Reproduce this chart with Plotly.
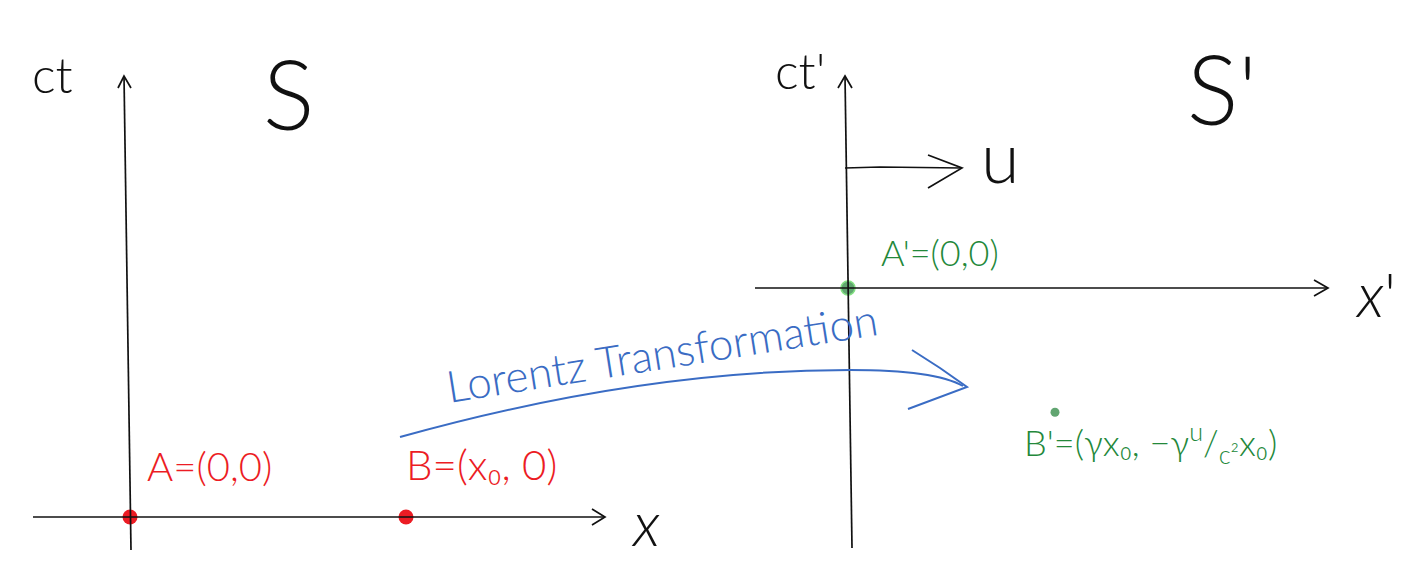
import plotly.graph_objects as go

W, H = 1406, 583
OFF = 8  # the page draws the figure 8px in from the top-left corner

# events in frame S (lengths in units of x0)
s_labels = ["A=(0,0)", "B=(x₀, 0)"]
s_x = [0.0, 1.0]
s_ct = [0.0, 0.0]

# the same events in frame S' (x0 = 1, gamma = 1.25, u/c = 0.6)
sp_labels = ["A'=(0,0)", "B'=(γx₀, −γ<sup>u</sup>/<sub>c²</sub>x₀)"]
sp_x = [0.0, 1.25]
sp_ct = [0.0, -0.75]

RED = "#ec1c24"
GREEN = "#23883a"
BLUE = "#3a6cc4"
INK = "#111111"
FONT = "Lato"

# where each frame's origin sits on screen and how many pixels one unit spans
S_ORIGIN, S_SCALE = (130, 517), 276.0
SP_ORIGIN, SP_SCALE = (848, 288), 165.6


def pp(x, y):
    # screen pixel -> paper fraction
    return (x - OFF) / W, 1 - (y - OFF) / H


def axis_range(origin, scale):
    ox, oy = origin[0] - OFF, origin[1] - OFF
    return [-ox / scale, (W - ox) / scale], [-(H - oy) / scale, oy / scale]


def to_frame(origin, scale, x, y):
    return (x - origin[0]) / scale, (origin[1] - y) / scale


def path(points):
    parts = []
    for i, (x, y) in enumerate(points):
        fx, fy = pp(x, y)
        parts.append(("M" if i == 0 else "L") + f"{fx:.5f},{fy:.5f}")
    return " ".join(parts)


fig = go.Figure()

fig.add_trace(go.Scatter(
    x=s_x, y=s_ct, mode="markers", xaxis="x", yaxis="y",
    marker=dict(size=15, color=RED, symbol="circle", line=dict(width=0)),
    hoverinfo="skip", showlegend=False,
))
fig.add_trace(go.Scatter(
    x=sp_x, y=sp_ct, mode="markers", xaxis="x2", yaxis="y2",
    marker=dict(size=[14, 9], color="#1e7f35",
                line=dict(color=["#4fd44f", "#1e7f35"], width=[1.5, 0])),
    hoverinfo="skip", showlegend=False,
))

shapes = []
line_k = dict(color=INK, width=1.7)


def frame_line(ref, origin, scale, p0, p1):
    x0, y0 = to_frame(origin, scale, *p0)
    x1, y1 = to_frame(origin, scale, *p1)
    shapes.append(dict(type="line", xref="x" + ref, yref="y" + ref,
                       x0=x0, y0=y0, x1=x1, y1=y1, line=line_k))


# axes of S and S'
frame_line("", S_ORIGIN, S_SCALE, (33, 517), (605, 517))
frame_line("", S_ORIGIN, S_SCALE, (131, 550), (124, 76))
frame_line("2", SP_ORIGIN, SP_SCALE, (755, 288), (1328, 288))
frame_line("2", SP_ORIGIN, SP_SCALE, (852, 548), (845, 76))

# arrow heads and velocity arrow
heads = [
    [(592, 509), (605, 517), (592, 525)],
    [(118, 88), (124, 76), (131, 88)],
    [(1314, 280), (1328, 288), (1314, 296)],
    [(838, 88), (845, 76), (852, 88)],
    [(928, 155), (962, 168), (928, 188)],
]
for h in heads:
    shapes.append(dict(type="path", xref="paper", yref="paper", path=path(h), line=line_k))
shapes.append(dict(type="path", xref="paper", yref="paper",
                   path=path([(845, 168), (880, 167), (962, 168)]), line=line_k))

# blue transformation arrow
a = pp(400, 437)
c1 = pp(640, 370)
e = pp(850, 370)
c2 = pp(935, 370)
f = pp(963, 386)
shapes.append(dict(
    type="path", xref="paper", yref="paper",
    path=f"M{a[0]:.5f},{a[1]:.5f} Q{c1[0]:.5f},{c1[1]:.5f} {e[0]:.5f},{e[1]:.5f} "
         f"Q{c2[0]:.5f},{c2[1]:.5f} {f[0]:.5f},{f[1]:.5f}",
    line=dict(color=BLUE, width=2),
))
shapes.append(dict(type="path", xref="paper", yref="paper",
                   path=path([(912, 350), (940, 368), (967, 387), (908, 409)]),
                   line=dict(color=BLUE, width=2)))

annotations = []


def text(x, y, s, size, color=INK, angle=0):
    fx, fy = pp(x, y)
    annotations.append(dict(
        x=fx, y=fy, xref="paper", yref="paper", text=s, showarrow=False,
        xanchor="center", yanchor="middle", textangle=angle,
        font=dict(family=FONT, size=size, color=color, weight=300),
    ))


text(52, 74, "ct", 50)
text(288, 92, "S", 96)
text(645, 522, "<i>x</i>", 62)
text(800, 70, "ct'", 50)
text(1222, 88, "S'", 96)
text(1375, 293, "<i>x</i>'", 62)
text(1000, 156, "u", 70)

# event labels come from the data arrays
text(209, 466, s_labels[0], 40, RED)
text(481, 464, s_labels[1], 42, RED)
text(940, 252, sp_labels[0], 36, GREEN)
text(1150, 442, sp_labels[1], 36, GREEN)

text(662, 352, "Lorentz Transformation", 44, BLUE, angle=-9)

sx_range, sy_range = axis_range(S_ORIGIN, S_SCALE)
px_range, py_range = axis_range(SP_ORIGIN, SP_SCALE)

fig.update_layout(
    width=W, height=H,
    margin=dict(l=0, r=0, t=0, b=0),
    paper_bgcolor="white", plot_bgcolor="white",
    shapes=shapes, annotations=annotations,
    xaxis=dict(range=sx_range, visible=False, fixedrange=True),
    yaxis=dict(range=sy_range, visible=False, fixedrange=True),
    xaxis2=dict(range=px_range, visible=False, overlaying="x", fixedrange=True),
    yaxis2=dict(range=py_range, visible=False, overlaying="y", fixedrange=True),
)

fig.write_html("out.html")
